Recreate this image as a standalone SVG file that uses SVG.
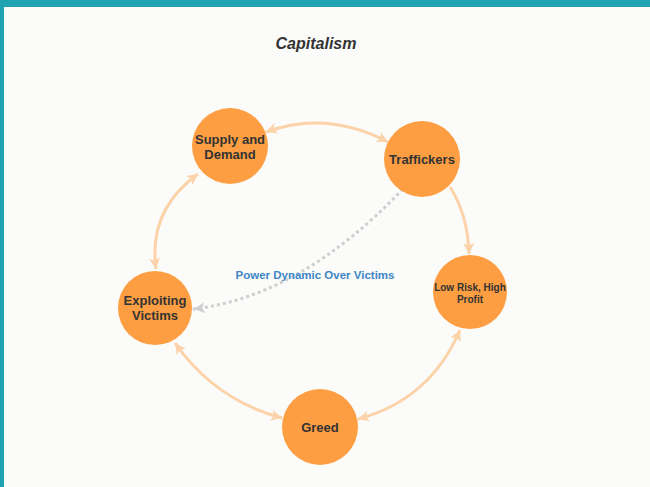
<svg xmlns="http://www.w3.org/2000/svg" width="650" height="487" viewBox="0 0 650 487">
<defs>
<style>
.node{fill:#fd9e42}
.lbl{font-family:"Liberation Sans",Arial,sans-serif;font-weight:bold;fill:#333;text-anchor:middle}
.edge{fill:none;stroke:#fcd3a8;stroke-width:3}
.dot{fill:none;stroke:#cfcfcf;stroke-width:3;stroke-dasharray:0.1 6;stroke-linecap:square}
</style>
<marker id="ah" viewBox="0 0 10 10" refX="10" refY="5" markerWidth="11" markerHeight="11" markerUnits="userSpaceOnUse" orient="auto-start-reverse">
<path d="M0,0 L10,5 L0,10 L2.5,5 z" fill="#fcd3a8"/>
</marker>
<marker id="ahg" viewBox="0 0 10 10" refX="10" refY="5" markerWidth="11" markerHeight="11" markerUnits="userSpaceOnUse" orient="auto">
<path d="M0,0 L10,5 L0,10 L2.5,5 z" fill="#cfcfcf"/>
</marker>
</defs>
<rect width="650" height="487" fill="#fbfbfa"/>
<rect width="650" height="7" fill="#1fa3b1"/>
<rect width="4" height="487" fill="#1fa3b1"/>
<text x="316" y="49" font-family="'Liberation Sans',Arial,sans-serif" font-size="16" font-weight="bold" font-style="italic" fill="#333" text-anchor="middle">Capitalism</text>
<g id="connectors">
<path class="edge" d="M 266,132 Q 327,110 388,142" marker-start="url(#ah)" marker-end="url(#ah)"/>
<path class="edge" d="M 450,187 Q 468,215 469,254" marker-end="url(#ah)"/>
<path class="edge" d="M 156,269 Q 148,210 198,174" marker-start="url(#ah)" marker-end="url(#ah)"/>
<path class="edge" d="M 175,343 Q 215,400 282,418" marker-start="url(#ah)" marker-end="url(#ah)"/>
<path class="edge" d="M 358,419 Q 430,400 460,330" marker-start="url(#ah)" marker-end="url(#ah)"/>
<path class="dot" d="M 402,190 Q 301,296 194,309" marker-end="url(#ahg)"/>
<text x="315" y="279" font-family="'Liberation Sans',Arial,sans-serif" font-size="11.5" font-weight="bold" fill="#3f86c6" text-anchor="middle">Power Dynamic Over Victims</text>
</g>
<g id="supply">
<circle class="node" cx="230" cy="146" r="38"/>
<text class="lbl" x="230" y="144" font-size="13">Supply and</text>
<text class="lbl" x="230" y="159" font-size="13">Demand</text>
</g>
<g id="traffickers">
<circle class="node" cx="422" cy="159" r="38"/>
<text class="lbl" x="422" y="164" font-size="13">Traffickers</text>
</g>
<g id="lowrisk">
<circle class="node" cx="470" cy="292" r="37"/>
<text class="lbl" x="470" y="291" font-size="10">Low Risk, High</text>
<text class="lbl" x="470" y="303" font-size="10">Profit</text>
</g>
<g id="greed">
<circle class="node" cx="320" cy="427" r="38"/>
<text class="lbl" x="320" y="432" font-size="13">Greed</text>
</g>
<g id="exploiting">
<circle class="node" cx="155" cy="308" r="37"/>
<text class="lbl" x="155" y="305" font-size="13">Exploiting</text>
<text class="lbl" x="155" y="320" font-size="13">Victims</text>
</g>
</svg>
